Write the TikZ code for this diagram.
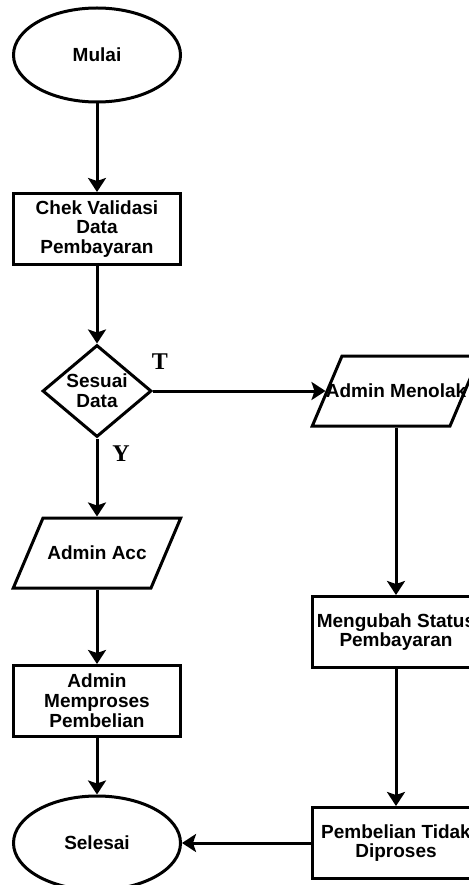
\documentclass[tikz,border=0pt]{standalone}
\usepackage{fontspec}
\setmainfont{Liberation Serif}
\setsansfont{Liberation Sans}
\usetikzlibrary{shapes,arrows,arrows.meta,positioning,shapes.geometric}

\begin{document}
\begin{tikzpicture}[
    x=1pt, y=-1pt,
    terminal/.style={ellipse, draw=black, line width=3pt, fill=white, minimum width=167pt, minimum height=94pt, inner sep=0pt, text centered, font=\sffamily\bfseries\fontsize{19}{20}\selectfont},
    process/.style={rectangle, draw=black, line width=3pt, fill=white, minimum width=167pt, minimum height=71pt, inner sep=0pt, align=center, font=\sffamily\bfseries\fontsize{19}{19.8}\selectfont},
    decision/.style={diamond, draw=black, line width=3pt, fill=white, aspect=1.18, minimum width=109pt, minimum height=92pt, inner sep=0pt, align=center, font=\sffamily\bfseries\fontsize{19}{19.8}\selectfont},
    inout/.style={trapezium, trapezium left angle=67, trapezium right angle=113, draw=black, line width=3pt, fill=white, inner sep=0pt, text height=41.5pt, text depth=28.5pt, font=\sffamily\bfseries\fontsize{19}{19.8}\selectfont},
    answer/.style={font=\rmfamily\bfseries\fontsize{24}{26}\selectfont, inner sep=0pt},
    arrow/.style={->, >={Stealth[length=14pt, width=18pt, inset=3pt]}, line width=3pt}
]

\useasboundingbox (0,0) rectangle (468,885);

\node[terminal] (mulai) at (97,55) {Mulai};
\node[process] (cek) at (97,229) {Chek Validasi\\Data\\Pembayaran};
\node[decision] (sesuai) at (97,391) {Sesuai\\Data};
\node[inout] (acc) at (97,553) {\makebox[108pt]{Admin Acc}};
\node[process] (proses) at (97,701) {Admin\\Memproses\\Pembelian};
\node[terminal] (selesai) at (97,843) {Selesai};
\node[inout] (tolak) at (396,391) {\makebox[108pt]{Admin Menolak}};
\node[process] (ubah) at (396,632) {Mengubah Status\\Pembayaran};
\node[process] (tidak) at (396,843) {Pembelian Tidak\\Diproses};

\node[answer] (jawabT) at (160,362) {T};
\node[answer] (jawabY) at (121,454) {Y};

\draw[arrow] (mulai) -- (cek);
\draw[arrow] (cek) -- (sesuai);
\draw[arrow] (sesuai) -- (tolak);
\draw[arrow] (sesuai) -- (acc);
\draw[arrow] (acc) -- (proses);
\draw[arrow] (proses) -- (selesai);
\draw[arrow] (tolak) -- (ubah);
\draw[arrow] (ubah) -- (tidak);
\draw[arrow] (tidak) -- (selesai);

\end{tikzpicture}
\end{document}
